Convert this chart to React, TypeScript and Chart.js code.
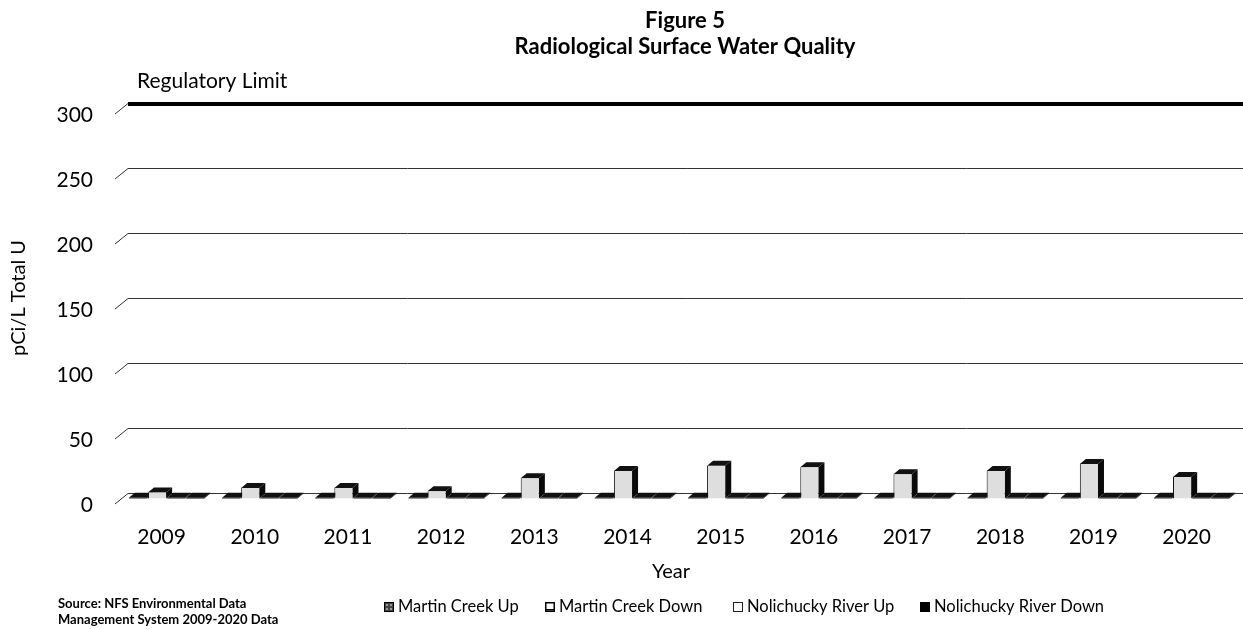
import { useEffect, useRef } from 'react';
import { Chart, registerables } from 'chart.js';

Chart.register(...registerables);

const YEARS = ['2009', '2010', '2011', '2012', '2013', '2014', '2015', '2016', '2017', '2018', '2019', '2020'];
const MARTIN_CREEK_UP = [1, 1, 1, 1, 1, 1, 1, 1, 1, 1, 1, 1];
const MARTIN_CREEK_DOWN = [5, 8.5, 8.5, 6, 16, 21.5, 25.5, 24.5, 19, 21.5, 27, 17];
const NOLICHUCKY_RIVER_UP = [1, 1, 1, 1, 1, 1, 1, 1, 1, 1, 1, 1];
const NOLICHUCKY_RIVER_DOWN = [1, 1, 1, 1, 1, 1, 1, 1, 1, 1, 1, 1];
const SERIES_NAMES = ['Martin Creek Up', 'Martin Creek Down', 'Nolichucky River Up', 'Nolichucky River Down'];
const Y_TICKS = [0, 50, 100, 150, 200, 250, 300];
const REGULATORY_LIMIT = 300;
const TITLE_LINES = ['Figure 5', 'Radiological Surface Water Quality'];
const SOURCE_LINES = ['Source: NFS Environmental Data', 'Management System 2009-2020 Data'];

const FONT = 'Lato, "Open Sans", sans-serif';
const WALL_DX = 13;
const WALL_DY = 11;
const BAR_SHIFT_X = -8;
const BAR_SHIFT_Y = 6;
const DEPTH_DX = 6;
const DEPTH_DY = -5;

const threeD = {
  id: 'threeD',
  beforeDatasetsDraw(chart: any) {
    const ctx = chart.ctx;
    const { left, right } = chart.chartArea;
    const y = chart.scales.y;
    ctx.save();
    ctx.strokeStyle = '#333';
    ctx.lineWidth = 1;
    Y_TICKS.forEach((v) => {
      const py = y.getPixelForValue(v);
      ctx.beginPath();
      ctx.moveTo(left, py + 0.5);
      ctx.lineTo(left - WALL_DX, py + WALL_DY);
      ctx.stroke();
    });
    const ry = y.getPixelForValue(REGULATORY_LIMIT);
    ctx.strokeStyle = '#000';
    ctx.lineWidth = 4;
    ctx.beginPath();
    ctx.moveTo(left, ry + 1);
    ctx.lineTo(right, ry + 1);
    ctx.stroke();
    ctx.restore();

    ctx.save();
    ctx.translate(BAR_SHIFT_X, BAR_SHIFT_Y);
    chart.data.datasets.forEach((_ds: any, i: number) => {
      const meta = chart.getDatasetMeta(i);
      meta.data.forEach((bar: any) => {
        const w = bar.width;
        const l = bar.x - w / 2;
        const r = bar.x + w / 2;
        const t = bar.y;
        const b = bar.base;
        ctx.fillStyle = '#0a0a0a';
        ctx.beginPath();
        ctx.moveTo(r, t);
        ctx.lineTo(r + DEPTH_DX, t + DEPTH_DY);
        ctx.lineTo(r + DEPTH_DX, b + DEPTH_DY);
        ctx.lineTo(r, b);
        ctx.closePath();
        ctx.fill();
        ctx.fillStyle = '#111';
        ctx.beginPath();
        ctx.moveTo(l, t);
        ctx.lineTo(l + DEPTH_DX, t + DEPTH_DY);
        ctx.lineTo(r + DEPTH_DX, t + DEPTH_DY);
        ctx.lineTo(r, t);
        ctx.closePath();
        ctx.fill();
      });
    });
  },
  afterDatasetsDraw(chart: any) {
    chart.ctx.restore();
  },
};

const texts = {
  id: 'texts',
  afterDraw(chart: any) {
    const ctx = chart.ctx;
    ctx.save();
    ctx.fillStyle = '#000';
    ctx.textBaseline = 'middle';
    ctx.textAlign = 'center';
    ctx.font = `bold 22px ${FONT}`;
    ctx.fillText(TITLE_LINES[0], 685, 21);
    ctx.fillText(TITLE_LINES[1], 685, 47);

    ctx.textAlign = 'left';
    ctx.font = `21px ${FONT}`;
    ctx.fillText('Regulatory Limit', 137, 81);

    ctx.textAlign = 'center';
    ctx.font = `20px ${FONT}`;
    ctx.fillText('Year', 671, 572);

    ctx.textAlign = 'left';
    ctx.font = `bold 13px ${FONT}`;
    ctx.fillText(SOURCE_LINES[0], 58, 604);
    ctx.fillText(SOURCE_LINES[1], 58, 620);

    ctx.font = `16.5px ${FONT}`;
    const xs = [384, 545, 733, 920];
    const ly = 607;
    SERIES_NAMES.forEach((name, i) => {
      const x = xs[i];
      const s = 10;
      const by = Math.round(ly - s / 2);
      if (i === 0) {
        ctx.fillStyle = '#444';
        ctx.fillRect(x, by, s, s);
        ctx.fillStyle = '#999';
        for (let k = 0; k < 4; k++) ctx.fillRect(x + 2 + (k % 2) * 4, by + 2 + Math.floor(k / 2) * 4, 2, 2);
        ctx.strokeStyle = '#000';
        ctx.lineWidth = 1;
        ctx.strokeRect(x + 0.5, by + 0.5, s - 1, s - 1);
      } else if (i === 1) {
        ctx.fillStyle = '#fff';
        ctx.fillRect(x, by, s, s);
        ctx.strokeStyle = '#000';
        ctx.lineWidth = 1.5;
        ctx.strokeRect(x + 0.75, by + 0.75, s - 1.5, s - 1.5);
        ctx.fillStyle = '#000';
        ctx.fillRect(x, by + s - 3, s, 1.5);
      } else if (i === 2) {
        ctx.fillStyle = '#fff';
        ctx.fillRect(x, by, s, s);
        ctx.strokeStyle = '#222';
        ctx.lineWidth = 1;
        ctx.strokeRect(x + 0.5, by + 0.5, s - 1, s - 1);
      } else {
        ctx.fillStyle = '#000';
        ctx.fillRect(x, by, s, s);
      }
      ctx.fillStyle = '#000';
      ctx.fillText(name, x + s + 4, ly);
    });
    ctx.restore();
  },
};

export default function App() {
  const ref = useRef<HTMLCanvasElement | null>(null);

  useEffect(() => {
    if (!ref.current) return;
    const tickFont = { family: FONT, size: 21 };
    const chart = new Chart(ref.current, {
      type: 'bar',
      data: {
        labels: YEARS,
        datasets: [
          { label: SERIES_NAMES[0], data: MARTIN_CREEK_UP, backgroundColor: '#2a2a2a', borderColor: '#000', borderWidth: 0 },
          { label: SERIES_NAMES[1], data: MARTIN_CREEK_DOWN, backgroundColor: '#dedede', borderColor: '#111', borderWidth: { left: 1, right: 0, top: 0, bottom: 0 } },
          { label: SERIES_NAMES[2], data: NOLICHUCKY_RIVER_UP, backgroundColor: '#222', borderColor: '#000', borderWidth: 0 },
          { label: SERIES_NAMES[3], data: NOLICHUCKY_RIVER_DOWN, backgroundColor: '#000', borderColor: '#000', borderWidth: 0 },
        ],
      },
      options: {
        responsive: false,
        animation: false,
        devicePixelRatio: 1,
        layout: { padding: { top: 103, left: 0, right: 0, bottom: 0 } },
        datasets: { bar: { categoryPercentage: 0.82, barPercentage: 0.95 } },
        plugins: {
          legend: { display: false },
          title: { display: false },
          tooltip: { enabled: false },
        },
        scales: {
          x: {
            afterFit: (s: any) => { s.height = 136; },
            ticks: { padding: 32, labelOffset: -13, color: '#000', font: tickFont, maxRotation: 0 },
            grid: { display: false, drawTicks: false },
            border: { display: false },
          },
          y: {
            min: 0,
            max: 300,
            afterFit: (s: any) => { s.width = 128; },
            afterBuildTicks: (s: any) => { s.ticks = Y_TICKS.map((v) => ({ value: v })); },
            ticks: { padding: 35, labelOffset: 12, color: '#000', font: tickFont },
            grid: { color: '#333', lineWidth: 1, drawTicks: false },
            border: { display: false },
            title: { display: true, text: 'pCi/L Total U', color: '#000', font: { family: FONT, size: 20 }, padding: { top: 7, bottom: 0 } },
          },
        },
      },
      plugins: [threeD, texts],
    });
    return () => chart.destroy();
  }, []);

  return (
    <div style={{ position: 'fixed', left: 0, top: 0, width: 1243, height: 629, overflow: 'hidden', background: '#fff' }}>
      <canvas ref={ref} width={1256} height={629} style={{ display: 'block' }} />
    </div>
  );
}
